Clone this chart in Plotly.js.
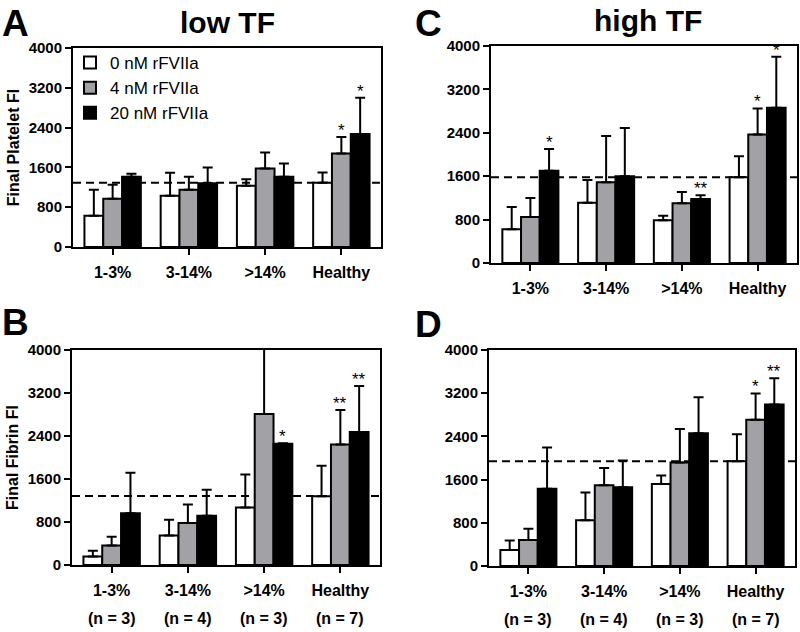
<!DOCTYPE html>
<html><head><meta charset="utf-8">
<script src="https://cdn.plot.ly/plotly-3.0.1.min.js"></script>
<style>html,body{margin:0;padding:0;background:#fff}#chart{width:800px;height:632px}</style>
</head><body><div id="chart"></div><script>
// ---- data ----
const categories = ['1-3%', '3-14%', '>14%', 'Healthy'];
const nLabels = ['(n = 3)', '(n = 4)', '(n = 3)', '(n = 7)'];
const seriesNames = ['0 nM rFVIIa', '4 nM rFVIIa', '20 nM rFVIIa'];

// A: Final Platelet FI, low TF
const plateletLow0 = [630, 1030, 1230, 1290];
const plateletLow0Sd = [520, 460, 130, 210];
const plateletLow4 = [970, 1150, 1580, 1880];
const plateletLow4Sd = [280, 260, 320, 330];
const plateletLow20 = [1410, 1280, 1410, 2270];
const plateletLow20Sd = [60, 320, 270, 730];
const plateletLowRef = 1290;
const plateletLowStars = [[3, 1, '*'], [3, 2, '*']];

// C: Final Platelet FI, high TF
const plateletHigh0 = [620, 1110, 790, 1580];
const plateletHigh0Sd = [410, 420, 80, 390];
const plateletHigh4 = [850, 1490, 1100, 2370];
const plateletHigh4Sd = [350, 850, 210, 480];
const plateletHigh20 = [1700, 1600, 1180, 2860];
const plateletHigh20Sd = [400, 890, 70, 940];
const plateletHighRef = 1580;
const plateletHighStars = [[0, 2, '*'], [2, 2, '**'], [3, 1, '*'], [3, 2, '*']];

// B: Final Fibrin FI, low TF
const fibrinLow0 = [160, 550, 1070, 1280];
const fibrinLow0Sd = [105, 290, 615, 565];
const fibrinLow4 = [365, 780, 2810, 2240];
const fibrinLow4Sd = [160, 345, 1400, 645];
const fibrinLow20 = [965, 915, 2255, 2475];
const fibrinLow20Sd = [750, 485, 10, 855];
const fibrinLowRef = 1282;
const fibrinLowStars = [[2, 2, '*'], [3, 1, '**'], [3, 2, '**']];

// D: Final Fibrin FI, high TF
const fibrinHigh0 = [295, 845, 1520, 1940];
const fibrinHigh0Sd = [175, 515, 155, 500];
const fibrinHigh4 = [480, 1495, 1915, 2710];
const fibrinHigh4Sd = [210, 320, 620, 485];
const fibrinHigh20 = [1430, 1460, 2460, 2990];
const fibrinHigh20Sd = [765, 495, 665, 485];
const fibrinHighRef = 1940;
const fibrinHighStars = [[3, 1, '*'], [3, 2, '**']];

const yTicks = [0, 800, 1600, 2400, 3200, 4000];

// ---- styling ----
const FONT = 'Arial, "Liberation Sans", Helvetica, sans-serif';
const barColors = ['#ffffff', '#a2a2a6', '#000000'];
const BARGAP = 0.26;

const panels = [
  {ax: '', means: [plateletLow0, plateletLow4, plateletLow20], sds: [plateletLow0Sd, plateletLow4Sd, plateletLow20Sd], ref: plateletLowRef, stars: plateletLowStars, legend: true},
  {ax: '2', means: [plateletHigh0, plateletHigh4, plateletHigh20], sds: [plateletHigh0Sd, plateletHigh4Sd, plateletHigh20Sd], ref: plateletHighRef, stars: plateletHighStars},
  {ax: '3', means: [fibrinLow0, fibrinLow4, fibrinLow20], sds: [fibrinLow0Sd, fibrinLow4Sd, fibrinLow20Sd], ref: fibrinLowRef, stars: fibrinLowStars, nlab: true},
  {ax: '4', means: [fibrinHigh0, fibrinHigh4, fibrinHigh20], sds: [fibrinHigh0Sd, fibrinHigh4Sd, fibrinHigh20Sd], ref: fibrinHighRef, stars: fibrinHighStars, nlab: true}
];

const W = 800, H = 632;
const px = v => v / W;
const py = v => (H - v) / H;

// panel boxes in pixels [left, right, top, bottom]
const boxes = [[73, 381, 48, 247], [491, 797, 46, 263], [72, 380, 350, 565], [489, 795, 350, 566]];

const traces = [];
const shapes = [];
const annotations = [];
const layout = {
  width: W, height: H,
  margin: {l: 0, r: 0, t: 0, b: 0},
  paper_bgcolor: '#fff', plot_bgcolor: '#fff',
  barmode: 'group', bargap: BARGAP, bargroupgap: 0,
  showlegend: true,
  legend: {x: px(70), y: py(45), xanchor: 'left', yanchor: 'top', bgcolor: 'rgba(0,0,0,0)',
           font: {family: FONT, size: 17, color: '#000'}, tracegroupgap: 0},
  font: {family: FONT, color: '#000'},
  shapes: shapes, annotations: annotations
};

const yTitles = ['Final Platelet FI', '', 'Final Fibrin FI', ''];

panels.forEach((p, pi) => {
  const xa = 'x' + p.ax, ya = 'y' + p.ax;
  const b = boxes[pi];
  for (let s = 0; s < 3; s++) {
    traces.push({
      type: 'bar', x: categories, y: p.means[s], name: seriesNames[s],
      xaxis: xa, yaxis: ya, legendgroup: 's' + s, showlegend: !!p.legend,
      marker: {color: barColors[s], line: {color: '#000', width: 2}},
      error_y: {type: 'data', array: p.sds[s], arrayminus: p.sds[s].map(() => 0), symmetric: false,
                color: '#000', thickness: 2, width: 5},
      hoverinfo: 'skip'
    });
  }
  const xKey = 'xaxis' + p.ax, yKey = 'yaxis' + p.ax;
  layout[xKey] = {
    domain: [px(b[0]), px(b[1])], anchor: ya, type: 'category',
    range: [-0.52, 3.52], showgrid: false, zeroline: false,
    showline: true, linecolor: '#000', linewidth: 2, mirror: true,
    ticks: 'outside', ticklen: 6, tickwidth: 2, tickcolor: '#000',
    tickfont: {family: FONT, size: 16, color: '#000', weight: 'bold'},
    ticklabelstandoff: 4
  };
  layout[yKey] = {
    domain: [py(b[3]), py(b[2])], anchor: xa,
    range: [0, 4000], tickvals: yTicks, ticktext: yTicks.map(String),
    showgrid: false, zeroline: false,
    showline: true, linecolor: '#000', linewidth: 2, mirror: true,
    ticks: 'outside', ticklen: 6, tickwidth: 2, tickcolor: '#000',
    tickfont: {family: FONT, size: 15, color: '#000', weight: 'bold'},
    title: yTitles[pi] ? {text: yTitles[pi], font: {family: FONT, size: 16, color: '#000', weight: 'bold'}, standoff: 5} : {text: ''}
  };
  shapes.push({type: 'line', xref: xa + ' domain', yref: ya, x0: 0, x1: 1, y0: p.ref, y1: p.ref,
               line: {color: '#000', width: 2, dash: '8px,5px'}, layer: 'below'});
  const bw = (1 - BARGAP) / 3;
  p.stars.forEach(([c, s, txt]) => {
    annotations.push({xref: xa, yref: ya, x: c + (s - 1) * bw, y: Math.min(p.means[s][c] + p.sds[s][c], 4000),
                      text: txt, showarrow: false, yanchor: 'bottom', xanchor: 'center', yshift: -5,
                      font: {family: FONT, size: 17, color: '#000'}});
  });
  if (p.nlab) {
    nLabels.forEach((t, i) => {
      annotations.push({xref: xa, yref: 'paper', x: i, y: py(b[3] + 53), text: t, showarrow: false,
                        xanchor: 'center', yanchor: 'middle',
                        font: {family: FONT, size: 16, color: '#000', weight: 'bold'}});
    });
  }
});

// panel letters and column titles
const textItems = [
  {t: 'A', x: 0, y: 24, size: 37, anchor: 'left'},
  {t: 'C', x: 413, y: 24, size: 37, anchor: 'left'},
  {t: 'B', x: 0, y: 322, size: 37, anchor: 'left'},
  {t: 'D', x: 413, y: 324, size: 37, anchor: 'left'},
  {t: 'low TF', x: 228, y: 23, size: 30, anchor: 'center'},
  {t: 'high TF', x: 648, y: 21, size: 30, anchor: 'center'}
];
textItems.forEach(it => {
  annotations.push({xref: 'paper', yref: 'paper', x: px(it.x), y: py(it.y), text: it.t, showarrow: false,
                    xanchor: it.anchor, yanchor: 'middle',
                    font: {family: FONT, size: it.size, color: '#000', weight: 'bold'}});
});

Plotly.newPlot('chart', traces, layout, {staticPlot: true, displayModeBar: false});
</script></body></html>
